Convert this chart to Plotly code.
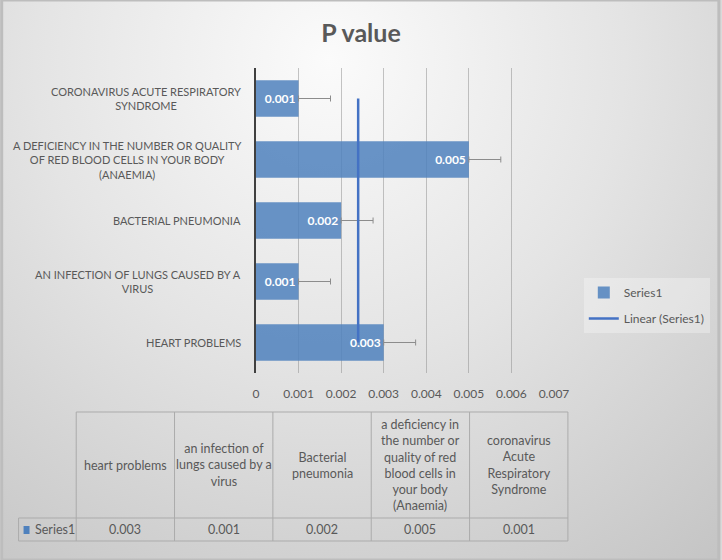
import base64
import numpy as np
import plotly.graph_objects as go

# chart data (category 1 = bottom bar, as in the Excel sheet)
categories = [
    "heart problems",
    "an infection of lungs caused by a virus",
    "Bacterial pneumonia",
    "a deficiency in the number or quality of red blood cells in your body (Anaemia)",
    "coronavirus Acute Respiratory Syndrome",
]
p_values = [0.003, 0.001, 0.002, 0.005, 0.001]
err_plus = [0.00075, 0.00075, 0.00075, 0.00075, 0.00075]
err_minus = [0, 0, 0, 0, 0]

axis_labels = [
    "HEART PROBLEMS",
    "AN INFECTION OF LUNGS CAUSED BY A<br>VIRUS",
    "BACTERIAL PNEUMONIA",
    "A DEFICIENCY IN THE NUMBER OR QUALITY<br>OF RED BLOOD CELLS IN YOUR BODY<br>(ANAEMIA)",
    "CORONAVIRUS ACUTE RESPIRATORY<br>SYNDROME",
]
table_labels = [
    "heart problems",
    "an infection of<br>lungs caused by a<br>virus",
    "Bacterial<br>pneumonia",
    "a deficiency in<br>the number or<br>quality of red<br>blood cells in<br>your body<br>(Anaemia)",
    "coronavirus<br>Acute<br>Respiratory<br>Syndrome",
]
series_name = "Series1"
x_ticks = [0, 0.001, 0.002, 0.003, 0.004, 0.005, 0.006, 0.007]
x_ticktext = ["0", "0.001", "0.002", "0.003", "0.004", "0.005", "0.006", "0.007"]

FONT = "Lato, 'Open Sans', sans-serif"
GREY = "#595959"
BAR = "rgba(79,129,189,0.85)"
LINE = "#4472C4"

# figure is 722x560, plot area 256..556 x 68..373
L, R, T, B = 256, 166, 68, 187
PW, PH = 722 - L - R, 560 - T - B


def px(x):
    return (x - L) / PW


def py(y):
    return (560 - B - y) / PH


# linear trendline of the series over category index
idx = np.arange(1, len(p_values) + 1)
slope, icpt = np.polyfit(idx, p_values, 1)
trend = icpt + slope * idx

fig = go.Figure()
fig.add_bar(
    x=p_values, y=categories, orientation="h", name=series_name, legendgroup="s",
    marker=dict(color=BAR, line=dict(width=0)),
    texttemplate="%{x:.3f}", textposition="inside", insidetextanchor="end",
    textfont=dict(family=FONT, size=12, color="white", weight="bold"),
    error_x=dict(type="data", symmetric=False, array=err_plus, arrayminus=err_minus,
                 color="#8C8C8C", thickness=1, width=3),
)
fig.add_scatter(x=trend, y=categories, mode="lines", name="Linear (" + series_name + ")",
                legendgroup="t", line=dict(color=LINE, width=2.5))

# category labels, lines centred like Excel
for cat, lab in zip(categories, axis_labels):
    fig.add_annotation(x=px(243), xref="paper", y=cat, yref="y", text=lab,
                       xanchor="right", yanchor="middle", align="center", showarrow=False,
                       font=dict(family=FONT, size=11, color=GREY))

# data table below the chart
col_edges = [75, 174, 273, 372, 471, 570]
top, mid, bot, left = 412, 518, 541, 17
tcol = "#ABABAB"
shapes = [
    dict(type="line", x0=px(75), x1=px(570), y0=py(top), y1=py(top)),
    dict(type="line", x0=px(left), x1=px(570), y0=py(mid), y1=py(mid)),
    dict(type="line", x0=px(left), x1=px(570), y0=py(bot), y1=py(bot)),
    dict(type="line", x0=px(left), x1=px(left), y0=py(mid), y1=py(bot)),
]
for e in col_edges:
    shapes.append(dict(type="line", x0=px(e), x1=px(e), y0=py(top), y1=py(bot)))
for s in shapes:
    s.update(xref="paper", yref="paper", line=dict(color=tcol, width=1))
shapes.append(dict(type="rect", xref="paper", yref="paper", x0=px(22), x1=px(28),
                   y0=py(534), y1=py(526), fillcolor="#4F81BD", line=dict(width=0)))
shapes.append(dict(type="rect", xref="paper", yref="paper", x0=px(0), x1=px(722),
                   y0=py(560), y1=py(0), line=dict(color="#BDBDBD", width=3)))

for i, (lab, v) in enumerate(zip(table_labels, p_values)):
    cx = (col_edges[i] + col_edges[i + 1]) / 2
    fig.add_annotation(x=px(cx), y=py((top + mid) / 2), xref="paper", yref="paper",
                       text=lab, showarrow=False, align="center",
                       xanchor="center", yanchor="middle",
                       font=dict(family=FONT, size=12.5, color=GREY))
    fig.add_annotation(x=px(cx), y=py((mid + bot) / 2), xref="paper", yref="paper",
                       text=f"{v:.3f}", showarrow=False,
                       xanchor="center", yanchor="middle",
                       font=dict(family=FONT, size=12.5, color=GREY))
fig.add_annotation(x=px(31), y=py((mid + bot) / 2), xref="paper", yref="paper",
                   text=series_name, showarrow=False, xanchor="left", yanchor="middle",
                   font=dict(family=FONT, size=12.5, color=GREY))

# soft radial background like the Excel chart style
svg = ('<svg xmlns="http://www.w3.org/2000/svg" width="722" height="560">'
       '<defs><radialGradient id="g" cx="330" cy="60" r="660" gradientUnits="userSpaceOnUse">'
       '<stop offset="0" stop-color="#fbfbfb"/><stop offset="0.45" stop-color="#e4e4e4"/>'
       '<stop offset="1" stop-color="#c2c2c2"/></radialGradient></defs>'
       '<rect width="722" height="560" fill="url(#g)"/></svg>')
bg = "data:image/svg+xml;base64," + base64.b64encode(svg.encode()).decode()

fig.update_layout(
    width=722, height=560,
    margin=dict(l=L, r=R, t=T, b=B),
    paper_bgcolor="#DADADA", plot_bgcolor="rgba(0,0,0,0)",
    font=dict(family=FONT, size=12, color=GREY),
    title=dict(text="<b>P value</b>", x=0.5, xref="container", xanchor="center",
               y=1 - 33 / 560, yref="container", yanchor="middle",
               font=dict(family=FONT, size=25, color=GREY)),
    bargap=0.4,
    showlegend=True,
    legend=dict(x=px(586), y=py(278), xanchor="left", yanchor="top",
                bgcolor="rgba(255,255,255,0.3)", font=dict(family=FONT, size=12, color=GREY),
                tracegroupgap=7),
    shapes=shapes,
    images=[dict(source=bg, xref="paper", yref="paper", x=px(0), y=py(0),
                 sizex=722 / PW, sizey=560 / PH, xanchor="left", yanchor="top",
                 sizing="stretch", layer="below")],
)
fig.update_xaxes(range=[0, 0.007], tickvals=x_ticks, ticktext=x_ticktext,
                 showgrid=True, gridcolor="rgba(140,140,140,0.5)", gridwidth=1,
                 zeroline=False, showline=False, ticks="", ticklabelstandoff=12,
                 tickfont=dict(family=FONT, size=12, color=GREY))
fig.update_yaxes(showticklabels=False, showgrid=False, zeroline=False,
                 showline=True, linecolor="#404040", linewidth=1.5, ticks="")

fig.write_html("out.html", config={"displayModeBar": False},
               post_script="document.body.style.margin='0px';")
